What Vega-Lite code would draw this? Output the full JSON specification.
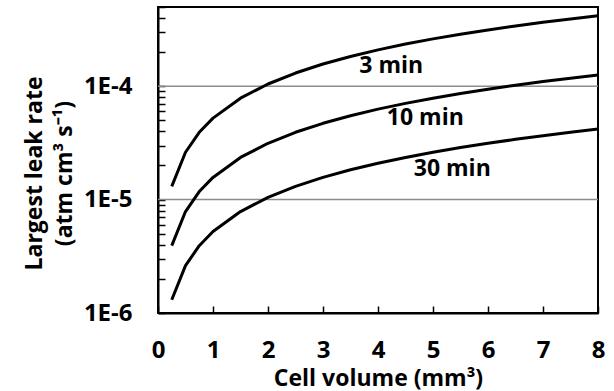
{
  "$schema": "https://vega.github.io/schema/vega-lite/v6.json",
  "width": 440,
  "height": 306,
  "autosize": {"type": "none"},
  "padding": {"left": 158, "top": 7, "right": 16, "bottom": 78},
  "background": "white",
  "config": {
    "view": {"stroke": "black", "strokeWidth": 2},
    "font": "Open Sans",
    "axis": {
      "domainColor": "black",
      "domainWidth": 2,
      "tickColor": "black",
      "tickWidth": 1.5,
      "tickSize": -7,
      "labelFont": "Open Sans",
      "labelFontWeight": "bold",
      "labelFontSize": 24,
      "labelColor": "black",
      "titleFont": "Open Sans",
      "titleFontWeight": "bold",
      "titleFontSize": 23,
      "titleColor": "black",
      "grid": false,
      "labelOverlap": false,
      "labelBound": false,
      "labelFlush": false
    }
  },
  "layer": [
    {
      "data": {"values": [{"leak": 0.0001}, {"leak": 0.00001}]},
      "mark": {"type": "rule", "color": "#8c8c8c", "strokeWidth": 1.5},
      "encoding": {
        "y": {"field": "leak", "type": "quantitative", "scale": {"type": "log", "domain": [0.000001, 0.0005], "nice": false}}
      }
    },
    {
      "data": {
        "values": [
          {"series": "3 min", "V": 0.25, "leak": 1.308e-5},
          {"series": "3 min", "V": 0.5, "leak": 2.617e-5},
          {"series": "3 min", "V": 0.75, "leak": 3.925e-5},
          {"series": "3 min", "V": 1, "leak": 5.233e-5},
          {"series": "3 min", "V": 1.5, "leak": 7.85e-5},
          {"series": "3 min", "V": 2, "leak": 1.047e-4},
          {"series": "3 min", "V": 2.5, "leak": 1.308e-4},
          {"series": "3 min", "V": 3, "leak": 1.57e-4},
          {"series": "3 min", "V": 3.5, "leak": 1.832e-4},
          {"series": "3 min", "V": 4, "leak": 2.093e-4},
          {"series": "3 min", "V": 4.5, "leak": 2.355e-4},
          {"series": "3 min", "V": 5, "leak": 2.617e-4},
          {"series": "3 min", "V": 5.5, "leak": 2.878e-4},
          {"series": "3 min", "V": 6, "leak": 3.14e-4},
          {"series": "3 min", "V": 6.5, "leak": 3.402e-4},
          {"series": "3 min", "V": 7, "leak": 3.663e-4},
          {"series": "3 min", "V": 7.5, "leak": 3.925e-4},
          {"series": "3 min", "V": 8, "leak": 4.187e-4},
          {"series": "10 min", "V": 0.25, "leak": 3.925e-6},
          {"series": "10 min", "V": 0.5, "leak": 7.85e-6},
          {"series": "10 min", "V": 0.75, "leak": 1.178e-5},
          {"series": "10 min", "V": 1, "leak": 1.57e-5},
          {"series": "10 min", "V": 1.5, "leak": 2.355e-5},
          {"series": "10 min", "V": 2, "leak": 3.14e-5},
          {"series": "10 min", "V": 2.5, "leak": 3.925e-5},
          {"series": "10 min", "V": 3, "leak": 4.71e-5},
          {"series": "10 min", "V": 3.5, "leak": 5.495e-5},
          {"series": "10 min", "V": 4, "leak": 6.28e-5},
          {"series": "10 min", "V": 4.5, "leak": 7.065e-5},
          {"series": "10 min", "V": 5, "leak": 7.85e-5},
          {"series": "10 min", "V": 5.5, "leak": 8.635e-5},
          {"series": "10 min", "V": 6, "leak": 9.42e-5},
          {"series": "10 min", "V": 6.5, "leak": 1.0205e-4},
          {"series": "10 min", "V": 7, "leak": 1.099e-4},
          {"series": "10 min", "V": 7.5, "leak": 1.1775e-4},
          {"series": "10 min", "V": 8, "leak": 1.256e-4},
          {"series": "30 min", "V": 0.25, "leak": 1.308e-6},
          {"series": "30 min", "V": 0.5, "leak": 2.617e-6},
          {"series": "30 min", "V": 0.75, "leak": 3.925e-6},
          {"series": "30 min", "V": 1, "leak": 5.233e-6},
          {"series": "30 min", "V": 1.5, "leak": 7.85e-6},
          {"series": "30 min", "V": 2, "leak": 1.047e-5},
          {"series": "30 min", "V": 2.5, "leak": 1.308e-5},
          {"series": "30 min", "V": 3, "leak": 1.57e-5},
          {"series": "30 min", "V": 3.5, "leak": 1.832e-5},
          {"series": "30 min", "V": 4, "leak": 2.093e-5},
          {"series": "30 min", "V": 4.5, "leak": 2.355e-5},
          {"series": "30 min", "V": 5, "leak": 2.617e-5},
          {"series": "30 min", "V": 5.5, "leak": 2.878e-5},
          {"series": "30 min", "V": 6, "leak": 3.14e-5},
          {"series": "30 min", "V": 6.5, "leak": 3.402e-5},
          {"series": "30 min", "V": 7, "leak": 3.663e-5},
          {"series": "30 min", "V": 7.5, "leak": 3.925e-5},
          {"series": "30 min", "V": 8, "leak": 4.187e-5}
        ]
      },
      "mark": {"type": "line", "color": "black", "strokeWidth": 3, "strokeJoin": "round", "strokeCap": "butt"},
      "encoding": {
        "x": {
          "field": "V", "type": "quantitative",
          "scale": {"domain": [0, 8], "nice": false, "zero": false},
          "axis": {
            "title": "Cell volume (mm³)",
            "values": [0, 0.5, 1, 1.5, 2, 2.5, 3, 3.5, 4, 4.5, 5, 5.5, 6, 6.5, 7, 7.5, 8],
            "labelExpr": "datum.value % 1 == 0 ? datum.label : ''",
            "labelPadding": 32,
            "titleX": 220,
            "titleY": 72,
            "titleBaseline": "alphabetic",
            "titleAlign": "center"
          }
        },
        "y": {
          "field": "leak", "type": "quantitative",
          "scale": {"type": "log", "domain": [0.000001, 0.0005], "nice": false},
          "axis": {
            "title": ["Largest leak rate", "(atm cm³ s⁻¹)"],
            "values": [0.000001, 0.000002, 0.000003, 0.000004, 0.000005, 0.000006, 0.000007, 0.000008, 0.000009, 0.00001, 0.00002, 0.00003, 0.00004, 0.00005, 0.00006, 0.00007, 0.00008, 0.00009, 0.0001, 0.0002, 0.0003, 0.0004, 0.0005],
            "labelExpr": "datum.value == 0.0001 ? '1E-4' : datum.value == 0.00001 ? '1E-5' : datum.value == 0.000001 ? '1E-6' : ''",
            "labelPadding": 33,
            "titleAngle": -90,
            "titleX": -135,
            "titleY": 166,
            "titleBaseline": "top",
            "titleAlign": "center",
            "titleLineHeight": 30
          }
        },
        "detail": {"field": "series"}
      }
    },
    {
      "data": {
        "values": [
          {"label": "3 min", "V": 4.24, "leak": 1.5e-4},
          {"label": "10 min", "V": 4.86, "leak": 5.27e-5},
          {"label": "30 min", "V": 5.35, "leak": 1.87e-5}
        ]
      },
      "mark": {"type": "text", "font": "Open Sans", "fontWeight": "bold", "fontSize": 23, "color": "black", "align": "center", "baseline": "middle"},
      "encoding": {
        "x": {"field": "V", "type": "quantitative"},
        "y": {"field": "leak", "type": "quantitative"},
        "text": {"field": "label"}
      }
    }
  ]
}
